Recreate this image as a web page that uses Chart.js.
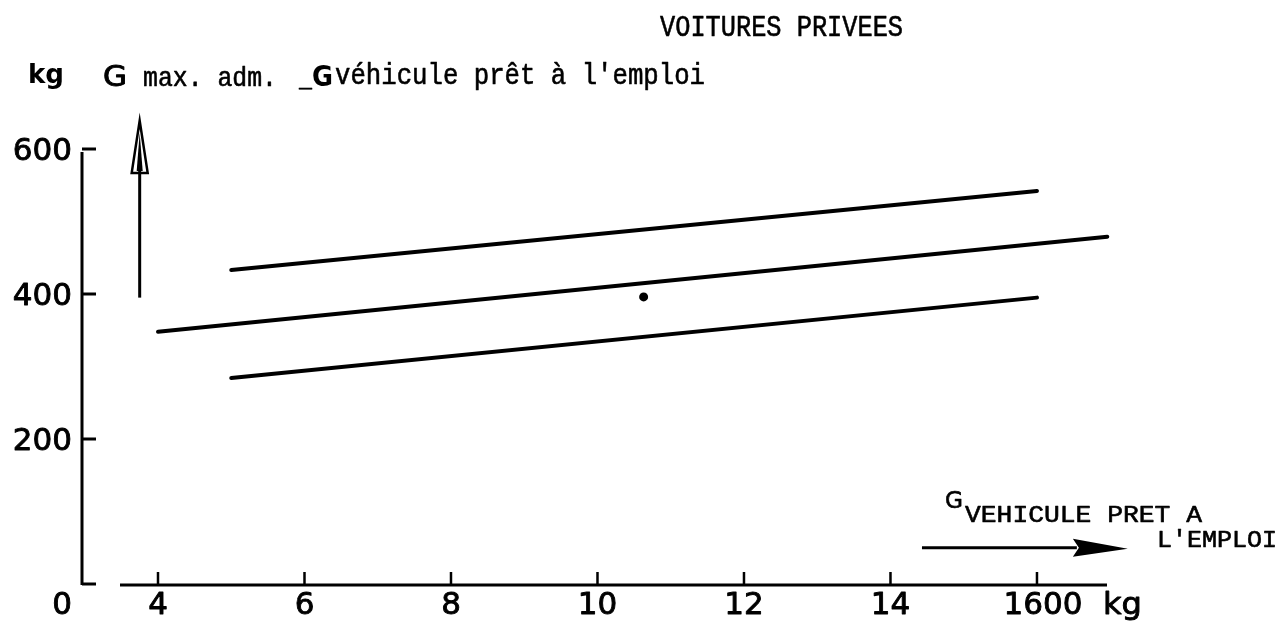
<!DOCTYPE html>
<html><head><meta charset="utf-8">
<script src="https://cdn.jsdelivr.net/npm/chart.js@4/dist/chart.umd.min.js"></script>
<style>html,body{margin:0;padding:0;background:#fff;}#wrap{width:1281px;height:627px;}</style>
</head><body><div id="wrap"><canvas id="c" width="1281" height="627"></canvas></div>
<script>
// ---- data (x in hundreds of kg, y in kg) ----
const upperX = [5, 16];
const upperY = [433, 542];
const middleX = [4, 16.96];
const middleY = [348, 479];
const lowerX = [5, 16];
const lowerY = [284, 395];
const pointX = [10.63];
const pointY = [396];
const xTickValues = [4, 6, 8, 10, 12, 14, 16];
const xTickLabels = ['4', '6', '8', '10', '12', '14', '1600'];
const yTickValues = [600, 400, 200];
const yTickLabels = ['600', '400', '200'];
const zeroLabel = '0';
const xUnitLabel = 'kg';
const titleText = 'VOITURES PRIVEES';
const yTitleParts = ['kg', 'G', 'max. adm.', '_', 'G', "véhicule prêt à l'emploi"];
const xTitleParts = ['G', 'VEHICULE PRET A', "L'EMPLOI"];

const pts = (xs, ys) => xs.map((x, i) => ({x, y: ys[i]}));
const SANS = '"DejaVu Sans", sans-serif';
const MONO = '"Liberation Mono", monospace';

function fitText(ctx, text, x, y, font, w, sw) {
  ctx.font = font;
  const m = ctx.measureText(text).width;
  ctx.save(); ctx.translate(x, y); ctx.scale(w / m, 1);
  ctx.fillText(text, 0, 0);
  if (sw) { ctx.lineWidth = sw; ctx.lineJoin = 'round'; ctx.strokeText(text, 0, 0); }
  ctx.restore();
}
function boldText(ctx, text, x, y, sw) {
  ctx.fillText(text, x, y);
  ctx.save(); ctx.lineWidth = sw; ctx.lineJoin = 'round'; ctx.strokeText(text, x, y); ctx.restore();
}

const decor = {
  id: 'decor',
  afterDraw(chart) {
    const ctx = chart.ctx, xs = chart.scales.x, ys = chart.scales.y;
    const ax = xs.left, y0 = ys.getPixelForValue(0);
    ctx.save();
    ctx.strokeStyle = '#000'; ctx.fillStyle = '#000';
    // y axis
    ctx.lineWidth = 3; ctx.lineCap = 'butt';
    ctx.beginPath(); ctx.moveTo(ax, ys.getPixelForValue(596)); ctx.lineTo(ax, y0 + 1); ctx.stroke();
    ctx.font = '31px ' + SANS; ctx.textAlign = 'right'; ctx.textBaseline = 'alphabetic';
    yTickValues.forEach((v, i) => {
      const y = ys.getPixelForValue(v);
      ctx.lineWidth = 3;
      ctx.beginPath(); ctx.moveTo(ax, y); ctx.lineTo(ax + 14, y); ctx.stroke();
      boldText(ctx, yTickLabels[i], ax - 10, y + 11, 0.9);
    });
    // zero stub + label
    ctx.lineWidth = 3;
    ctx.beginPath(); ctx.moveTo(ax, y0); ctx.lineTo(ax + 14, y0); ctx.stroke();
    ctx.textAlign = 'center';
    boldText(ctx, zeroLabel, ax - 20, y0 + 30, 0.9);
    // x axis
    ctx.lineWidth = 3;
    ctx.beginPath(); ctx.moveTo(ax + 38, y0 + 1); ctx.lineTo(xs.right, y0 + 1); ctx.stroke();
    xTickValues.forEach((v, i) => {
      const x = xs.getPixelForValue(v);
      ctx.lineWidth = 2.5;
      ctx.beginPath(); ctx.moveTo(x, y0); ctx.lineTo(x, y0 - 12); ctx.stroke();
      ctx.font = '31px ' + SANS; ctx.textAlign = 'center';
      boldText(ctx, xTickLabels[i], x + (i === xTickLabels.length - 1 ? 6 : 0), y0 + 30, 0.9);
    });
    ctx.textAlign = 'left';
    fitText(ctx, xUnitLabel, 1103, y0 + 30, '31px ' + SANS, 39, 0.9);

    // vertical arrow
    const vx = xs.getPixelForValue(3.75);
    const vb = ys.getPixelForValue(395), vh = ys.getPixelForValue(567), vt = ys.getPixelForValue(639);
    ctx.lineWidth = 3;
    ctx.beginPath(); ctx.moveTo(vx, vb); ctx.lineTo(vx, vh - 4); ctx.stroke();
    ctx.lineWidth = 2.5; ctx.lineJoin = 'miter';
    ctx.beginPath(); ctx.moveTo(vx, vt); ctx.lineTo(vx - 8, vh); ctx.lineTo(vx + 8, vh); ctx.closePath(); ctx.stroke();
    ctx.beginPath(); ctx.moveTo(vx, vt + 12); ctx.lineTo(vx - 3, vh - 2); ctx.lineTo(vx + 3, vh - 2); ctx.closePath(); ctx.fill();

    // horizontal arrow
    const hy = ys.getPixelForValue(50);
    const hx0 = xs.getPixelForValue(14.43), hxb = xs.getPixelForValue(16.49), hxt = xs.getPixelForValue(17.24);
    ctx.lineWidth = 3;
    ctx.beginPath(); ctx.moveTo(hx0, hy); ctx.lineTo(hxb + 4, hy); ctx.stroke();
    ctx.beginPath(); ctx.moveTo(hxt, hy + 1); ctx.lineTo(hxb, hy - 9); ctx.lineTo(hxb + 6, hy); ctx.lineTo(hxb, hy + 9); ctx.closePath(); ctx.fill();

    // texts
    ctx.textAlign = 'left'; ctx.textBaseline = 'alphabetic';
    fitText(ctx, titleText, 660, 36, '29px ' + MONO, 243, 0.6);
    fitText(ctx, yTitleParts[0], 28, 83, 'bold 27px ' + SANS, 36);
    fitText(ctx, yTitleParts[1], 103, 86, '29px ' + SANS, 24, 0.9);
    fitText(ctx, yTitleParts[2], 143, 86, '28px ' + MONO, 134, 0.6);
    fitText(ctx, yTitleParts[3], 299, 86, '28px ' + MONO, 13, 0.6);
    fitText(ctx, yTitleParts[4], 312, 86, 'bold 29px ' + SANS, 21);
    fitText(ctx, yTitleParts[5], 335, 84, '29px ' + MONO, 370, 0.6);
    fitText(ctx, xTitleParts[0], 945, 508, '23px ' + SANS, 18, 0.6);
    fitText(ctx, xTitleParts[1], 965, 522, '23px ' + MONO, 237, 0.6);
    fitText(ctx, xTitleParts[2], 1157, 547, '23px ' + MONO, 120, 0.6);
    ctx.restore();
  }
};

const lineStyle = {showLine: true, borderColor: '#000', borderWidth: 4, borderCapStyle: 'round', pointRadius: 0, fill: false};
new Chart(document.getElementById('c'), {
  type: 'scatter',
  data: {
    datasets: [
      Object.assign({label: 'upper', data: pts(upperX, upperY)}, lineStyle),
      Object.assign({label: 'middle', data: pts(middleX, middleY)}, lineStyle),
      Object.assign({label: 'lower', data: pts(lowerX, lowerY)}, lineStyle),
      {label: 'point', data: pts(pointX, pointY), showLine: false, pointRadius: 4.5, backgroundColor: '#000', borderColor: '#000', borderWidth: 0}
    ]
  },
  options: {
    responsive: false, animation: false, clip: false,
    layout: {padding: {left: 82, right: 174, top: 149, bottom: 43}},
    plugins: {legend: {display: false}, tooltip: {enabled: false}},
    scales: {
      x: {type: 'linear', min: 2.9625, max: 16.956, display: false},
      y: {type: 'linear', min: 0, max: 600, display: false}
    }
  },
  plugins: [decor]
});
</script></body></html>
